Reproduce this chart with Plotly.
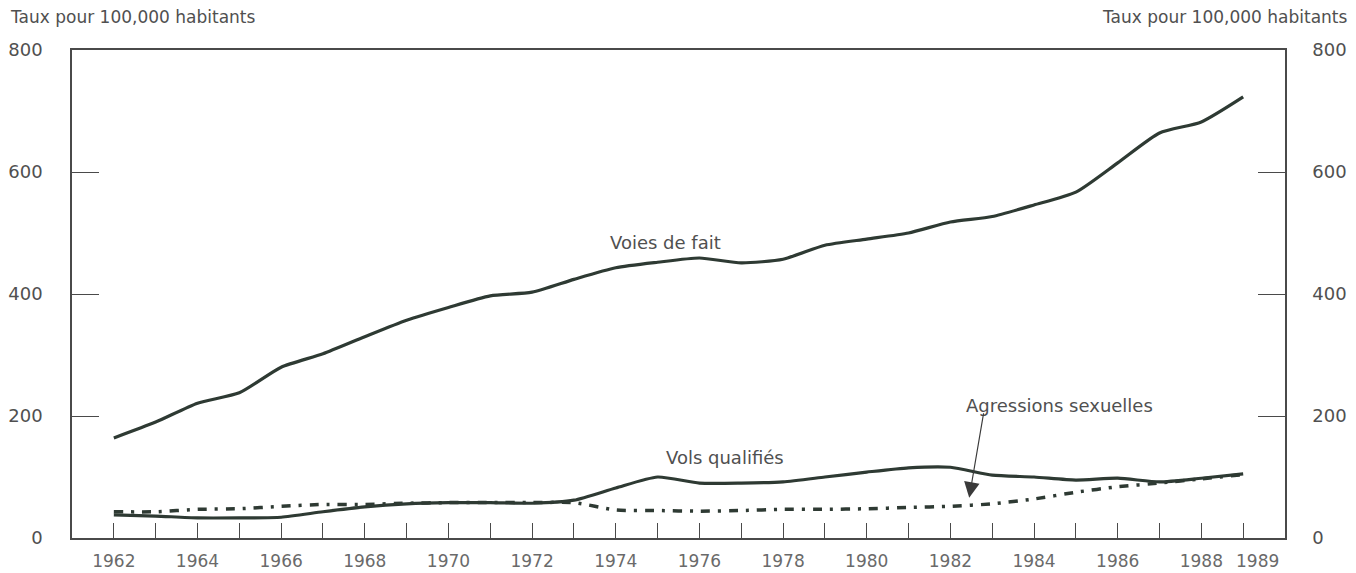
import plotly.graph_objects as go

# ── Data (taux pour 100,000 habitants) ────────────────────────────────────────
years = list(range(1962, 1990))

voies_de_fait = [164, 190, 221, 238, 280, 302, 330, 357, 378, 397, 403, 424,
                 443, 452, 459, 451, 457, 480, 490, 500, 518, 527, 546, 567,
                 615, 664, 682, 723]

vols_qualifies = [38, 36, 33, 33, 34, 43, 51, 56, 58, 58, 57, 62,
                  82, 100, 90, 90, 92, 100, 108, 115, 116, 103, 100, 95,
                  98, 92, 98, 105]

agressions_sexuelles = [43, 43, 47, 48, 52, 55, 55, 57, 58, 58, 58, 58,
                        46, 45, 44, 45, 47, 47, 48, 50, 52, 56, 64, 75,
                        84, 90, 97, 104]

tick_years = years
# 1989 is written a bit to the right of its tick, as in the original
tick_text = [str(y) if y % 2 == 0 else "" for y in years]
last_label = "1989"

y_ticks = [0, 200, 400, 600, 800]

# ── Style ─────────────────────────────────────────────────────────────────────
LINE = "#2e3a33"
AXIS = "#4a4a4a"
TEXT = "#505050"
TICK_TEXT = "#6a6a6a"
FONT = "DejaVu Sans"

fig = go.Figure()

fig.add_trace(go.Scatter(
    x=years, y=voies_de_fait, mode="lines",
    line=dict(color=LINE, width=3.2, shape="spline", smoothing=0.6),
    name="Voies de fait",
))
fig.add_trace(go.Scatter(
    x=years, y=vols_qualifies, mode="lines",
    line=dict(color=LINE, width=3.2, shape="spline", smoothing=0.6),
    name="Vols qualifiés",
))
fig.add_trace(go.Scatter(
    x=years, y=agressions_sexuelles, mode="lines",
    line=dict(color=LINE, width=3.5, shape="spline", smoothing=0.6,
              dash="9px,8px,3px,8px"),
    name="Agressions sexuelles",
))
# empty trace so the right-hand axis is drawn
fig.add_trace(go.Scatter(x=[years[0]], y=[0], yaxis="y2", mode="markers",
                         marker=dict(opacity=0), showlegend=False,
                         hoverinfo="skip"))

# ── Labels on the lines ───────────────────────────────────────────────────────
fig.add_annotation(x=1975.19, y=485, text="Voies de fait", showarrow=False,
                   font=dict(family=FONT, size=18, color=TEXT))
fig.add_annotation(x=1976.6, y=132, text="Vols qualifiés", showarrow=False,
                   font=dict(family=FONT, size=18, color=TEXT))
fig.add_annotation(x=1984.61, y=217, text="Agressions sexuelles", showarrow=False,
                   font=dict(family=FONT, size=18, color=TEXT))
fig.add_annotation(x=1982.45, y=66, ax=1982.8, ay=207,
                   xref="x", yref="y", axref="x", ayref="y",
                   text="", showarrow=True, arrowhead=2, arrowsize=2.6,
                   arrowwidth=1.2, arrowcolor="#3a3a3a")

# last year label, shifted right of its tick
fig.add_annotation(x=years[-1], y=0, xref="x", yref="paper", text=last_label,
                   showarrow=False, xshift=14, yshift=-23, yanchor="middle",
                   font=dict(family=FONT, size=17, color=TICK_TEXT))

# axis titles (top corners)
fig.add_annotation(xref="paper", yref="paper", x=-0.0528, y=1.068,
                   xanchor="left", yanchor="middle", showarrow=False,
                   text="Taux pour 100,000 habitants",
                   font=dict(family=FONT, size=17, color=TEXT))
fig.add_annotation(xref="paper", yref="paper", x=1.0536, y=1.068,
                   xanchor="right", yanchor="middle", showarrow=False,
                   text="Taux pour 100,000 habitants",
                   font=dict(family=FONT, size=17, color=TEXT))

# page body has an 8px margin, so the figure is 8px smaller than the window
fig.update_layout(
    width=1348, height=565,
    margin=dict(l=64, r=71, t=42, b=35),
    paper_bgcolor="white", plot_bgcolor="white",
    showlegend=False,
    font=dict(family=FONT, size=18, color=TEXT),
    xaxis=dict(
        range=[1961, 1990], tickvals=tick_years, ticktext=tick_text,
        tickangle=0, automargin=False,
        ticks="inside", ticklen=15, tickwidth=1.3, tickcolor=AXIS,
        showline=True, linecolor=AXIS, linewidth=1.5, mirror=True,
        showgrid=False, zeroline=False,
        tickfont=dict(family=FONT, size=17, color=TICK_TEXT),
        ticklabelstandoff=7,
    ),
    yaxis=dict(
        range=[0, 800], tickvals=y_ticks, automargin=False,
        ticks="inside", ticklen=27, tickwidth=1.3, tickcolor=AXIS,
        showline=True, linecolor=AXIS, linewidth=1.5,
        showgrid=False, zeroline=False,
        tickfont=dict(family=FONT, size=18, color=TEXT),
        ticklabelstandoff=24,
    ),
    yaxis2=dict(
        range=[0, 800], tickvals=y_ticks, overlaying="y", side="right",
        automargin=False,
        ticks="inside", ticklen=27, tickwidth=1.3, tickcolor=AXIS,
        showline=True, linecolor=AXIS, linewidth=1.5,
        showgrid=False, zeroline=False,
        tickfont=dict(family=FONT, size=18, color=TEXT),
        ticklabelstandoff=22,
    ),
)

fig.write_html("out.html")
